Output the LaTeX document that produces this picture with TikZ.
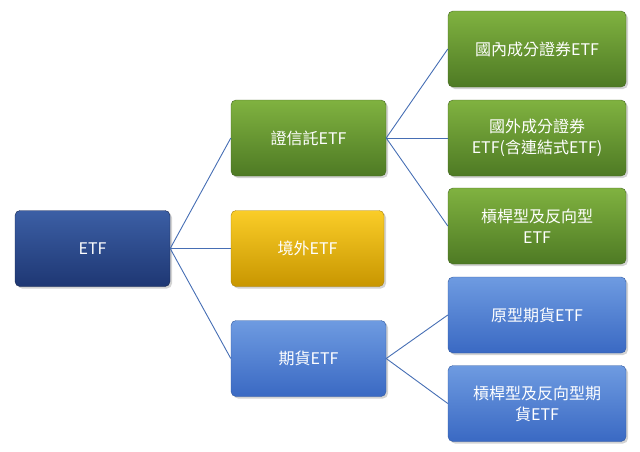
\documentclass[tikz,border=0pt]{standalone}
\usepackage{fontspec}
\setmainfont{Noto Sans CJK TC}
\usetikzlibrary{shadows}
\tikzset{
 bx/.style={rounded corners=5pt, minimum width=#1, minimum height=76pt, align=center, text=white, font=\fontsize{16}{21}\selectfont, drop shadow={shadow xshift=2pt,shadow yshift=-2pt,opacity=0.35}},
 grn/.style={bx=178pt, top color={rgb,255:red,128;green,178;blue,64}, bottom color={rgb,255:red,78;green,122;blue,36}, draw={rgb,255:red,70;green,105;blue,35}},
 gold/.style={bx=153pt, top color={rgb,255:red,250;green,205;blue,40}, bottom color={rgb,255:red,200;green,150;blue,0}, draw={rgb,255:red,170;green,130;blue,10}},
 blu/.style={bx=178pt, top color={rgb,255:red,110;green,155;blue,225}, bottom color={rgb,255:red,58;green,105;blue,195}, draw={rgb,255:red,50;green,90;blue,160}},
 dblu/.style={bx=155pt, top color={rgb,255:red,60;green,95;blue,165}, bottom color={rgb,255:red,30;green,55;blue,115}, draw={rgb,255:red,25;green,40;blue,80}},
 ln/.style={draw={rgb,255:red,70;green,110;blue,180}, line width=0.9pt}
}
\begin{document}
\begin{tikzpicture}[x=1pt,y=-1pt]
\useasboundingbox (0,0) rectangle (640,451);
\node[dblu] (etf) at (92.5,248.5) {ETF};
\node[grn, minimum width=155pt] (zx) at (308.5,138) {證信託ETF};
\node[gold] (jw) at (307.5,248.5) {境外ETF};
\node[blu, minimum width=155pt] (qh) at (308.5,358.5) {期貨ETF};
\node[grn] (r1) at (537,49) {國內成分證券ETF};
\node[grn] (r2) at (537,138) {國外成分證券\\ETF(含連結式ETF)};
\node[grn] (r3) at (537,226) {槓桿型及反向型\\ETF};
\node[blu] (r4) at (537,315) {原型期貨ETF};
\node[blu] (r5) at (537,403.5) {槓桿型及反向型期\\貨ETF};
\foreach \t in {zx,jw,qh} \draw[ln] (etf.east) -- (\t.west);
\foreach \t in {r1,r2,r3} \draw[ln] (zx.east) -- (\t.west);
\foreach \t in {r4,r5} \draw[ln] (qh.east) -- (\t.west);
\end{tikzpicture}
\end{document}
